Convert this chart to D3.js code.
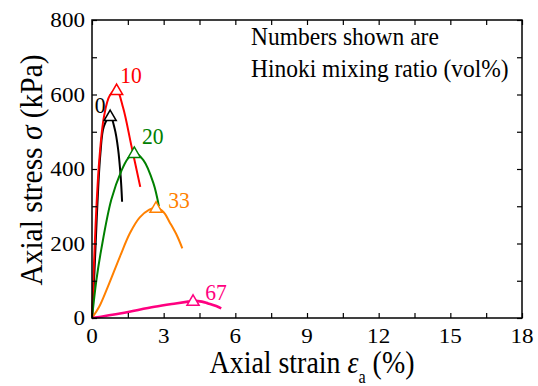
<!DOCTYPE html>
<html><head><meta charset="utf-8">
<script src="https://cdn.jsdelivr.net/npm/d3@7"></script>
<style>body{margin:0;background:#fff}svg{display:block}</style>
</head><body>
<svg id="c" width="538" height="386"></svg>
<script>
const xTicks = [0,3,6,9,12,15,18];
const yTicks = [0,200,400,600,800];
const seriesNames = ["0","10","20","33","67"];
const seriesColors = ["#000000","#ff0000","#008000","#ff8000","#ff0080"];
const seriesWidths = [2,2,2,2,2.6];
const s0 = [[0,0],[0.1,120],[0.2,270],[0.35,440],[0.5,515],[0.76,542],[0.95,508],[1.09,455],[1.2,380],[1.26,312]];
const s10 = [[0,0],[0.15,250],[0.3,420],[0.5,540],[0.75,598],[1.03,612],[1.3,565],[1.65,462],[2.02,352]];
const s20 = [[0,0],[0.18,100],[0.39,185],[0.81,318],[1.23,395],[1.5,428],[1.77,443],[2.15,424],[2.57,362],[2.8,300]];
const s33 = [[0,0],[0.3,30],[0.67,85],[1.17,165],[1.59,228],[2.0,270],[2.4,291],[2.68,296],[3.0,284],[3.26,256],[3.55,222],[3.78,187]];
const s67 = [[0,0],[1.23,13],[2.62,30],[3.5,39],[4.02,44],[4.23,46],[4.6,44],[4.86,39],[5.2,32],[5.41,26]];
const peaks = [[0.76,542],[1.03,612],[1.77,443],[2.68,296],[4.23,46]];
const labelPos = [[0.34,550],[1.63,630],[2.54,466],[3.64,295],[5.19,48]];
const series = [s0,s10,s20,s33,s67];

const svg = d3.select("#c");
const L=92,R=522,T=20,B=318;
const x = d3.scaleLinear().domain([0,18]).range([L,R]);
const y = d3.scaleLinear().domain([0,800]).range([B,T]);
const font = "'Liberation Serif','Times New Roman',serif";

function txt(px,py,size,sx,anchor){
  return svg.append("text").attr("transform",`translate(${px},${py}) scale(${sx},1)`)
    .attr("font-family",font).attr("font-size",size).attr("text-anchor",anchor||"start");
}

const line = d3.line().x(d=>x(d[0])).y(d=>y(d[1])).curve(d3.curveCatmullRom.alpha(0.5));
series.forEach((s,i)=>{
  svg.append("path").attr("d",line(s)).attr("fill","none")
    .attr("stroke",seriesColors[i]).attr("stroke-width",seriesWidths[i]);
});
const tri = d3.symbol().type(d3.symbolTriangle).size(64);
peaks.forEach((p,i)=>{
  svg.append("path").attr("d",tri()).attr("transform",`translate(${x(p[0])},${y(p[1])+1})`)
    .attr("fill","#fff").attr("stroke",seriesColors[i]).attr("stroke-width",1.5);
  txt(x(labelPos[i][0]),y(labelPos[i][1]),24,0.9,"middle").attr("fill",seriesColors[i]).text(seriesNames[i]);
});

// axes
const minorX = d3.range(0,18.01,1.5), minorY = d3.range(0,801,100);
const gb = svg.append("g").attr("transform",`translate(0,${B})`)
  .call(d3.axisBottom(x).tickValues(minorX).tickSize(-5).tickFormat(""));
const gt = svg.append("g").attr("transform",`translate(0,${T})`)
  .call(d3.axisTop(x).tickValues(minorX).tickSize(-5).tickFormat(""));
const gl = svg.append("g").attr("transform",`translate(${L},0)`)
  .call(d3.axisLeft(y).tickValues(minorY).tickSize(-5).tickFormat(""));
const gr = svg.append("g").attr("transform",`translate(${R},0)`)
  .call(d3.axisRight(y).tickValues(minorY).tickSize(-5).tickFormat(""));
[gb,gt,gl,gr].forEach(g=>{g.select(".domain").remove();g.selectAll("line").attr("stroke","#000").attr("stroke-width",1.2);});
svg.append("rect").attr("x",L).attr("y",T).attr("width",R-L).attr("height",B-T)
  .attr("fill","none").attr("stroke","#000").attr("stroke-width",1.5);

xTicks.forEach(d=>txt(x(d),B+25,21,1.1,"middle").text(d));
yTicks.forEach(d=>txt(L-7,y(d)+7,21,1.1,"end").text(d));

// titles
const xt = txt(312,373,31,0.9,"middle");
xt.append("tspan").text("Axial strain ");
xt.append("tspan").attr("font-style","italic").text("ε");
xt.append("tspan").attr("font-size",18).attr("dy",10).text("a");
xt.append("tspan").attr("dy",-10).text(" (%)");

const yt = svg.append("text").attr("transform","translate(42,170) rotate(-90) scale(0.92,1)").attr("text-anchor","middle")
  .attr("font-family",font).attr("font-size",32);
yt.append("tspan").text("Axial stress ");
yt.append("tspan").attr("font-style","italic").text("σ");
yt.append("tspan").text(" (kPa)");

txt(251,45,25,0.94).text("Numbers shown are");
txt(251,77,25,0.94).text("Hinoki mixing ratio (vol%)");
</script>
</body></html>
